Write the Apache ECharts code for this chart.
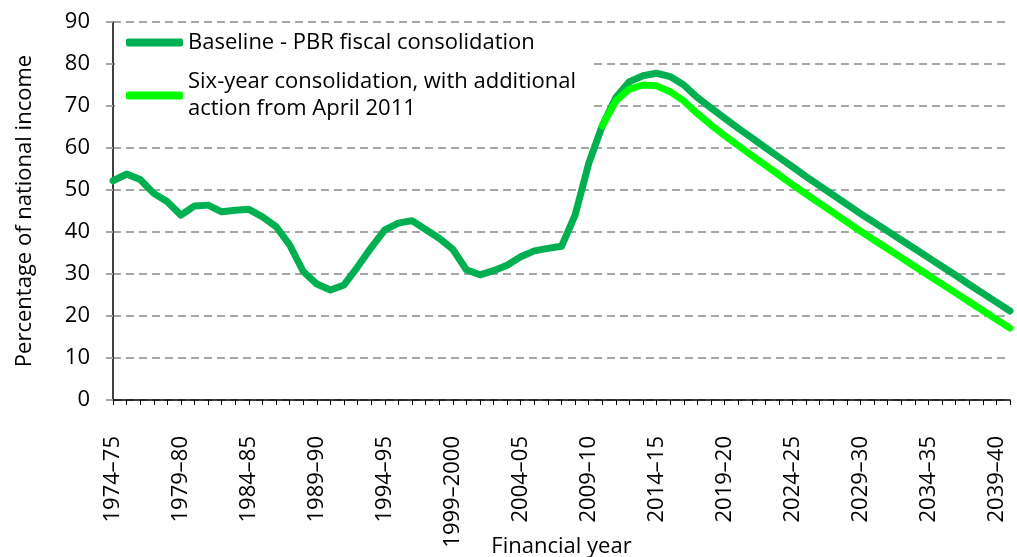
<!DOCTYPE html>
<html>
<head>
<meta charset="utf-8">
<script src="https://cdn.jsdelivr.net/npm/echarts@6/dist/echarts.min.js"></script>
<style>
  html, body { margin: 0; padding: 0; background: #fff; }
  #chart { width: 1017px; height: 557px; }
</style>
</head>
<body>
<div id="chart"></div>
<script>
const years = [
  '1974–75', '1975–76', '1976–77', '1977–78', '1978–79', '1979–80', '1980–81', '1981–82', '1982–83', '1983–84',
  '1984–85', '1985–86', '1986–87', '1987–88', '1988–89', '1989–90', '1990–91', '1991–92', '1992–93', '1993–94',
  '1994–95', '1995–96', '1996–97', '1997–98', '1998–99', '1999–2000', '2000–01', '2001–02', '2002–03', '2003–04',
  '2004–05', '2005–06', '2006–07', '2007–08', '2008–09', '2009–10', '2010–11', '2011–12', '2012–13', '2013–14',
  '2014–15', '2015–16', '2016–17', '2017–18', '2018–19', '2019–20', '2020–21', '2021–22', '2022–23', '2023–24',
  '2024–25', '2025–26', '2026–27', '2027–28', '2028–29', '2029–30', '2030–31', '2031–32', '2032–33', '2033–34',
  '2034–35', '2035–36', '2036–37', '2037–38', '2038–39', '2039–40', '2040–41'
]

const baseline = [
  52.2, 53.8, 52.5, 49.2, 47.2, 44.0, 46.2, 46.4, 44.8, 45.2,
  45.4, 43.6, 41.3, 36.9, 30.6, 27.6, 26.2, 27.4, 31.7, 36.3,
  40.5, 42.1, 42.7, 40.6, 38.5, 35.9, 31.0, 29.8, 30.8, 32.1,
  34.1, 35.5, 36.1, 36.6, 44.0, 56.3, 65.3, 72.0, 75.8, 77.2,
  77.8, 77.0, 75.0, 72.0, 69.5, 67.1, 64.7, 62.4, 60.1, 57.8,
  55.5, 53.2, 51.0, 48.8, 46.6, 44.4, 42.3, 40.2, 38.1, 36.0,
  33.9, 31.8, 29.7, 27.5, 25.4, 23.3, 21.2
]

// starts in 2010-11, nothing before that
const sixYear = [
  null, null, null, null, null, null, null, null, null, null,
  null, null, null, null, null, null, null, null, null, null,
  null, null, null, null, null, null, null, null, null, null,
  null, null, null, null, null, null, 65.3, 71.2, 74.0, 75.0,
  74.8, 73.4, 71.2, 68.2, 65.5, 63.0, 60.6, 58.2, 55.9, 53.6,
  51.3, 49.0, 46.8, 44.6, 42.4, 40.2, 38.1, 36.0, 33.9, 31.8,
  29.7, 27.6, 25.5, 23.4, 21.3, 19.2, 17.1
]

const baseName = 'Baseline - PBR fiscal consolidation'
const sixName = 'Six-year consolidation, with additional\naction from April 2011'
const font = 'Open Sans'

const chart = echarts.init(document.getElementById('chart'))
chart.setOption({
  animation: false,
  textStyle: { fontFamily: font, color: '#000' },
  grid: { left: 113, right: 7, top: 22, bottom: 157, containLabel: false, outerBoundsMode: 'none' },
  legend: {
    orient: 'vertical',
    left: 115,
    top: 25,
    padding: [4, 15, 4, 11],
    backgroundColor: '#fff',
    itemGap: -1,
    itemWidth: 57,
    itemHeight: 8,
    icon: 'roundRect',
    textStyle: { fontSize: 22, lineHeight: 27, color: '#000', fontFamily: font },
    data: [
      { name: baseName },
      { name: sixName, textStyle: { padding: [27, 0, 0, 0] } }
    ]
  },
  xAxis: {
    type: 'category',
    data: years,
    boundaryGap: false,
    name: 'Financial year',
    nameLocation: 'middle',
    nameGap: 136,
    nameMoveOverlap: false,
    nameTextStyle: { fontSize: 22, color: '#000' },
    axisLine: { lineStyle: { color: '#000', width: 1.5 } },
    axisTick: { show: true, interval: 0, length: 5, lineStyle: { color: '#000' } },
    axisLabel: { interval: 4, rotate: 90, fontSize: 22, margin: 36, color: '#000' },
    splitLine: { show: false }
  },
  yAxis: {
    type: 'value',
    min: 0,
    max: 90,
    interval: 10,
    name: 'Percentage of national income',
    nameLocation: 'middle',
    nameGap: 77,
    nameMoveOverlap: false,
    nameTextStyle: { fontSize: 22, color: '#000' },
    axisLine: { show: true, lineStyle: { color: '#000', width: 1.5 } },
    axisTick: { show: true, length: 7, lineStyle: { color: '#a6a6a6', width: 2 } },
    axisLabel: { fontSize: 22, margin: 23, color: '#000' },
    splitLine: { lineStyle: { color: '#a6a6a6', width: 2, type: [8, 5] } }
  },
  series: [
    {
      name: baseName,
      type: 'line',
      data: baseline,
      showSymbol: false,
      itemStyle: { color: '#00b050' },
      lineStyle: { color: '#00b050', width: 7, cap: 'round', join: 'round' }
    },
    {
      name: sixName,
      type: 'line',
      data: sixYear,
      showSymbol: false,
      itemStyle: { color: '#00ff00' },
      lineStyle: { color: '#00ff00', width: 7, cap: 'round', join: 'round' }
    }
  ]
})
</script>
</body>
</html>
